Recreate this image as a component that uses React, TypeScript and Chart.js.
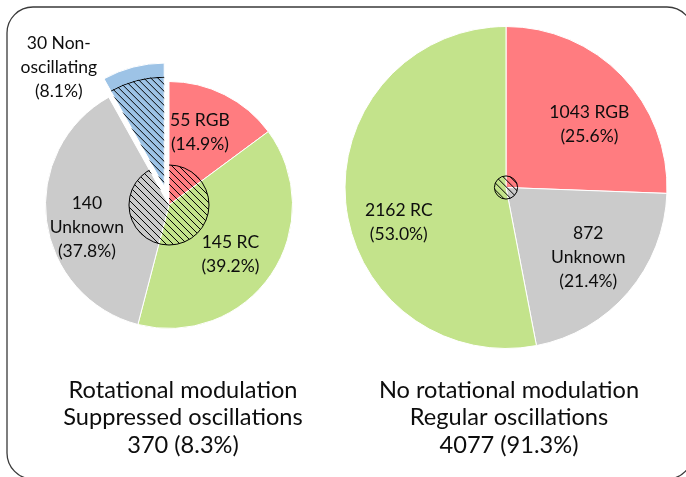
import React, { useEffect, useRef } from "react";
import { Chart, registerables } from "chart.js";

Chart.register(...registerables);

// ---------- data ----------
const leftCategories = ["RGB", "RC", "Unknown", "Non-oscillating"];
const leftCounts = [55, 145, 140, 30];
const leftPercents = ["14.9%", "39.2%", "37.8%", "8.1%"];

const rightCategories = ["RGB", "Unknown", "RC"];
const rightCounts = [1043, 872, 2162];
const rightPercents = ["25.6%", "21.4%", "53.0%"];

const leftCaption = ["Rotational modulation", "Suppressed oscillations", "370 (8.3%)"];
const rightCaption = ["No rotational modulation", "Regular oscillations", "4077 (91.3%)"];

// label text lines (built from the data)
const leftLabelLines = [
  [`${leftCounts[0]} ${leftCategories[0]}`, `(${leftPercents[0]})`],
  [`${leftCounts[1]} ${leftCategories[1]}`, `(${leftPercents[1]})`],
  [`${leftCounts[2]}`, leftCategories[2], `(${leftPercents[2]})`],
  [`${leftCounts[3]} Non-`, "oscillating", `(${leftPercents[3]})`],
];
const rightLabelLines = [
  [`${rightCounts[0]} ${rightCategories[0]}`, `(${rightPercents[0]})`],
  [`${rightCounts[1]}`, rightCategories[1], `(${rightPercents[1]})`],
  [`${rightCounts[2]} ${rightCategories[2]}`, `(${rightPercents[2]})`],
];

// ---------- styles ----------
const W = 686;
const H = 477;
const FONT = "Lato, 'Open Sans', sans-serif";
const LABEL_SIZE = 17.5;
const LABEL_LH = 24;
const CAPTION_SIZE = 23.6;
const CAPTION_LH = 27.5;
const RED = "#FF7C80";
const GREEN = "#C3E38B";
const GRAY = "#CBCBCB";
const BLUE = "#9DC3E6";
const leftColors = [RED, GREEN, GRAY, BLUE];
const rightColors = [RED, GRAY, GREEN];
const EXPLODE_INDEX = 3;
const EXPLODE_PX = 19;
const EXPLODE_HATCH_FRAC = 0.89;
const LEFT_CIRCLE_FRAC = 0.324;
const RIGHT_CIRCLE_FRAC = 0.072;
const HATCH_SPACING = 7;
// label placement: [angle from 12 o'clock (deg, clockwise), radius fraction]
const leftLabelPolar = [
  [23, 0.64],
  [129, 0.64],
  [254.5, 0.69],
  [321.4, 1.43],
];
const rightLabelPolar = [
  [52.8, 0.65],
  [130.3, 0.67],
  [252, 0.7],
];
const leftCaptionPos = [183, 390];
const rightCaptionPos = [509, 390];

function drawHatch(ctx: CanvasRenderingContext2D, x0: number, y0: number, x1: number, y1: number, spacing: number) {
  const h = y1 - y0;
  ctx.beginPath();
  for (let x = x0 - h; x <= x1; x += spacing) {
    ctx.moveTo(x, y0);
    ctx.lineTo(x + h, y1);
  }
  ctx.stroke();
}

function drawLines(ctx: CanvasRenderingContext2D, lines: string[], x: number, y: number, size: number, lh: number) {
  ctx.save();
  ctx.font = `${size}px ${FONT}`;
  ctx.fillStyle = "#0d0d0d";
  ctx.textAlign = "center";
  ctx.textBaseline = "middle";
  const top = y - ((lines.length - 1) * lh) / 2;
  lines.forEach((t, i) => ctx.fillText(t, x, top + i * lh));
  ctx.restore();
}

function drawLabels(chart: any, lines: string[][], polar: number[][]) {
  const ctx = chart.ctx as CanvasRenderingContext2D;
  const meta = chart.getDatasetMeta(0);
  const base = meta.data[0] as any;
  const cx = base.x;
  const cy = base.y;
  const R = base.outerRadius;
  lines.forEach((ls, i) => {
    const [deg, frac] = polar[i];
    const a = ((deg - 90) * Math.PI) / 180;
    drawLines(ctx, ls, cx + Math.cos(a) * R * frac, cy + Math.sin(a) * R * frac, LABEL_SIZE, LABEL_LH);
  });
}

function hatchedCircle(ctx: CanvasRenderingContext2D, cx: number, cy: number, r: number) {
  ctx.save();
  ctx.beginPath();
  ctx.arc(cx, cy, r, 0, Math.PI * 2);
  ctx.save();
  ctx.clip();
  ctx.strokeStyle = "#000";
  ctx.lineWidth = 1;
  drawHatch(ctx, cx - r - 2, cy - r - 2, cx + r + 2, cy + r + 2, HATCH_SPACING);
  ctx.restore();
  ctx.beginPath();
  ctx.arc(cx, cy, r, 0, Math.PI * 2);
  ctx.strokeStyle = "#000";
  ctx.lineWidth = 1;
  ctx.stroke();
  ctx.restore();
}

const leftPlugin = {
  id: "leftDecor",
  beforeDraw(chart: any) {
    const ctx = chart.ctx as CanvasRenderingContext2D;
    ctx.save();
    ctx.strokeStyle = "#3a3a3a";
    ctx.lineWidth = 1.3;
    ctx.beginPath();
    (ctx as any).roundRect(7, 7, 686, 472, 26);
    ctx.stroke();
    ctx.restore();
  },
  beforeDatasetsDraw(chart: any) {
    const meta = chart.getDatasetMeta(0);
    const base = meta.data[0] as any;
    const arc = meta.data[EXPLODE_INDEX] as any;
    const mid = (arc.startAngle + arc.endAngle) / 2;
    arc.x = base.x + Math.cos(mid) * EXPLODE_PX;
    arc.y = base.y + Math.sin(mid) * EXPLODE_PX;
  },
  afterDatasetsDraw(chart: any) {
    const ctx = chart.ctx as CanvasRenderingContext2D;
    const meta = chart.getDatasetMeta(0);
    const base = meta.data[0] as any;
    const arc = meta.data[EXPLODE_INDEX] as any;
    const cx = base.x;
    const cy = base.y;
    const R = base.outerRadius;
    // central hatched circle, excluding the exploded wedge
    ctx.save();
    ctx.beginPath();
    ctx.rect(0, 0, W, H);
    ctx.moveTo(cx, cy);
    ctx.arc(cx, cy, 1000, arc.startAngle, arc.endAngle);
    ctx.closePath();
    ctx.clip("evenodd");
    hatchedCircle(ctx, cx, cy, R * LEFT_CIRCLE_FRAC);
    ctx.restore();
    // hatch inside exploded slice
    const ex = arc.x;
    const ey = arc.y;
    const hr = R * EXPLODE_HATCH_FRAC;
    ctx.save();
    ctx.beginPath();
    ctx.moveTo(ex, ey);
    ctx.arc(ex, ey, hr, arc.startAngle, arc.endAngle);
    ctx.closePath();
    ctx.clip();
    ctx.strokeStyle = "#000";
    ctx.lineWidth = 1;
    drawHatch(ctx, ex - hr, ey - hr, ex + hr, ey + hr, HATCH_SPACING);
    ctx.beginPath();
    ctx.arc(ex, ey, hr - 0.5, arc.startAngle, arc.endAngle);
    ctx.stroke();
    ctx.restore();
    drawLabels(chart, leftLabelLines, leftLabelPolar);
    drawLines(ctx, leftCaption, leftCaptionPos[0], leftCaptionPos[1] + CAPTION_LH, CAPTION_SIZE, CAPTION_LH);
  },
};

const rightPlugin = {
  id: "rightDecor",
  afterDatasetsDraw(chart: any) {
    const ctx = chart.ctx as CanvasRenderingContext2D;
    const meta = chart.getDatasetMeta(0);
    const base = meta.data[0] as any;
    hatchedCircle(ctx, base.x, base.y, base.outerRadius * RIGHT_CIRCLE_FRAC);
    drawLabels(chart, rightLabelLines, rightLabelPolar);
    drawLines(ctx, rightCaption, rightCaptionPos[0], rightCaptionPos[1] + CAPTION_LH, CAPTION_SIZE, CAPTION_LH);
  },
};

export default function App() {
  const leftRef = useRef<HTMLCanvasElement>(null);
  const rightRef = useRef<HTMLCanvasElement>(null);

  useEffect(() => {
    const common = {
      responsive: false,
      animation: false as const,
      events: [] as any[],
      plugins: { legend: { display: false }, tooltip: { enabled: false }, title: { display: false } },
    };
    const left = new Chart(leftRef.current!, {
      type: "pie",
      data: {
        labels: leftCategories,
        datasets: [
          {
            data: leftCounts,
            backgroundColor: leftColors,
            borderColor: "#ffffff",
            borderWidth: 1,
          },
        ],
      },
      options: {
        ...common,
        radius: 123.5,
        layout: { padding: { left: 0, right: 348, top: 0, bottom: 67 } },
      } as any,
      plugins: [leftPlugin],
    });
    const right = new Chart(rightRef.current!, {
      type: "pie",
      data: {
        labels: rightCategories,
        datasets: [
          {
            data: rightCounts,
            backgroundColor: rightColors,
            borderColor: "#ffffff",
            borderWidth: 1,
          },
        ],
      },
      options: {
        ...common,
        radius: 161,
        layout: { padding: { left: 326, right: 0, top: 0, bottom: 102 } },
      } as any,
      plugins: [rightPlugin],
    });
    return () => {
      left.destroy();
      right.destroy();
    };
  }, []);

  return (
    <div style={{ position: "absolute", left: 0, top: 0, width: W, height: H, background: "#fff", overflow: "hidden" }}>
      <canvas ref={leftRef} width={W} height={H} style={{ position: "absolute", left: 0, top: 0 }} />
      <canvas ref={rightRef} width={W} height={H} style={{ position: "absolute", left: 0, top: 0 }} />
    </div>
  );
}
